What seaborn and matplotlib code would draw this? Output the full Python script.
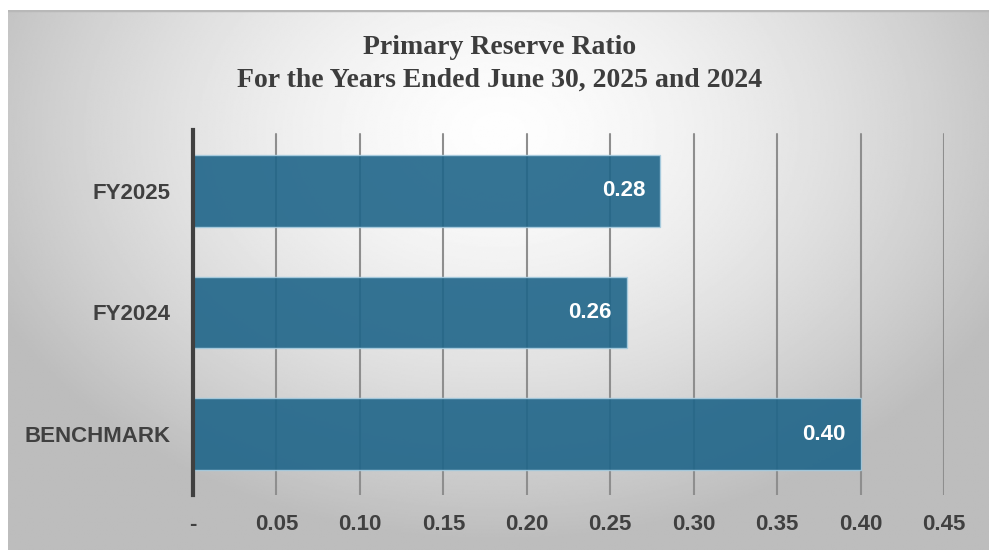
import numpy as np
import pandas as pd
import matplotlib
matplotlib.use("Agg")
import matplotlib.pyplot as plt
import seaborn as sns

# Chart data
categories = ["FY2025", "FY2024", "BENCHMARK"]
ratios = [0.28, 0.26, 0.40]
x_ticks = [0.00, 0.05, 0.10, 0.15, 0.20, 0.25, 0.30, 0.35, 0.40, 0.45]
x_tick_labels = ["-", "0.05", "0.10", "0.15", "0.20", "0.25", "0.30", "0.35", "0.40", "0.45"]
title_text = "Primary Reserve Ratio\nFor the Years Ended June 30, 2025 and 2024"

df = pd.DataFrame({"category": categories, "ratio": ratios})

sns.set_theme(style="white")
plt.rcParams["font.family"] = ["Liberation Sans", "DejaVu Sans"]

W, H = 989, 550
fig = plt.figure(figsize=(W / 100, H / 100), dpi=100)
fig.patch.set_facecolor("white")

# Soft radial grey backdrop panel
bg_ax = fig.add_axes([8 / W, 0, 1 - 8 / W, (H - 10) / H])
bg_ax.set_axis_off()
gx = np.linspace(-1, 1, 600)
gy = np.linspace(-1, 1, 400)
X, Y = np.meshgrid(gx, gy)
r = np.sqrt((X * 1.0) ** 2 + ((Y + 0.55) * 0.75) ** 2)
shade = np.clip(0.995 - 0.21 * r ** 1.5, 0.74, 1.0)
bg_ax.imshow(shade, cmap="gray", vmin=0, vmax=1, aspect="auto",
             extent=[0, 1, 0, 1], origin="upper", interpolation="bilinear")
bg_ax.set_xlim(0, 1)
bg_ax.set_ylim(0, 1)
bg_ax.axhline(1, color="#b8b8b8", lw=2.5)

# Main bar axes
x0, x1 = 193, 944
y_top, y_bot = 130, 495
ax = fig.add_axes([x0 / W, (H - y_bot) / H, (x1 - x0) / W, (y_bot - y_top) / H])
ax.patch.set_alpha(0)

for t in x_ticks[1:]:
    ax.axvline(t, color="#8e8e8e", lw=1.5, ymax=0.99, zorder=0)

sns.barplot(data=df, y="category", x="ratio", orient="h", ax=ax,
            color="#1f6589", alpha=0.9, width=0.59,
            edgecolor="#a9cde0", linewidth=1.0, saturation=1, zorder=2)

ax.set_xlim(0, 0.45)
ax.set_ylim(2.5, -0.5)
ax.set_xticks(x_ticks)
ax.set_xticklabels(x_tick_labels)
ax.set_xlabel("")
ax.set_ylabel("")

for s in ["top", "right", "bottom"]:
    ax.spines[s].set_visible(False)
ax.spines["left"].set_color("#404040")
ax.spines["left"].set_linewidth(3)
ax.spines["left"].set_zorder(5)

ax.tick_params(axis="x", length=0, pad=14, labelsize=16, labelcolor="#404040")
ax.tick_params(axis="y", length=0, pad=16, labelsize=16, labelcolor="#404040")
for lbl in ax.get_xticklabels() + ax.get_yticklabels():
    lbl.set_fontweight("bold")

for i, v in enumerate(df["ratio"]):
    ax.annotate(f"{v:.2f}", xy=(v, i), xytext=(-11, 0), textcoords="offset points",
                ha="right", va="center", color="white", fontsize=16,
                fontweight="bold", zorder=6)

fig.text(500 / W, 1 - 64 / H, title_text, ha="center", va="center",
         fontsize=20, fontweight="bold", color="#3d3d3d",
         family=["Liberation Serif", "DejaVu Serif"], linespacing=1.4)

fig.savefig("out.png", dpi=100)
